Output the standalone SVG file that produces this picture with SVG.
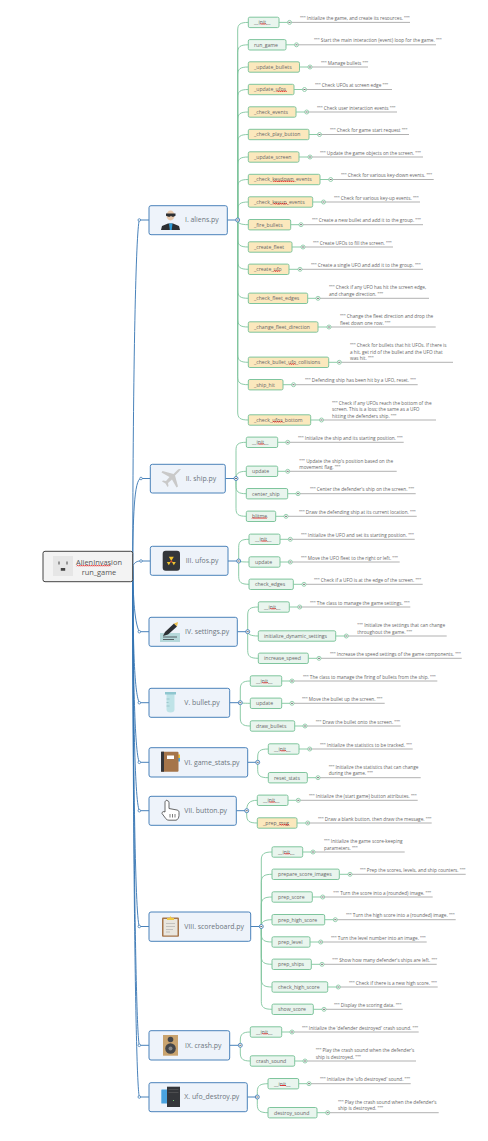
<svg xmlns="http://www.w3.org/2000/svg" width="488" height="1141" viewBox="0 0 488 1141">
<style>
text{font-family:"Open Sans","Liberation Sans",sans-serif;fill:#666}
.r{fill:#f3f3f3;stroke:#444;stroke-width:1}
.rt{font-size:7.4px;fill:#555;text-anchor:middle}
.p{fill:#eef3fa;stroke:#4a82ba;stroke-width:1}
.pt{font-size:6.9px;fill:#6c757e}
.c,.m{stroke:#7fc59d;stroke-width:1}
.c{fill:#e9f5ee}
.m{fill:#fbe8bd}
.l{font-size:5.15px}
.d{font-size:4.72px}
.tr,.br,.gr,.un{fill:none}
.tr,.br{stroke:#3474b2;stroke-width:.9}
.gr{stroke:#7fc59d;stroke-width:.9}
.un{stroke:#8f8f8f;stroke-width:.7}
.zz{fill:none;stroke:#e01010;stroke-width:.8}
</style>
<defs>
<g id="tg"><circle r="2" fill="#fff" stroke="#7fc59d" stroke-width=".8"/><path d="M-1 0H1" stroke="#333" stroke-width=".7"/></g>
<g id="tb"><circle r="2" fill="#fff" stroke="#3474b2" stroke-width=".8"/><path d="M-1 0H1" stroke="#333" stroke-width=".7"/></g>
<circle id="dot" r="1.3" fill="#fff" stroke="#3474b2" stroke-width=".7"/>
<path id="z7" class="zz" d="M0 1l1-1 1 1 1-1 1 1 1-1 1 1"/>
<path id="z10" class="zz" d="M0 1l1-1 1 1 1-1 1 1 1-1 1 1 1-1 1 1 1-1 1 1"/>
<path id="z14" class="zz" d="M0 1l1-1 1 1 1-1 1 1 1-1 1 1 1-1 1 1 1-1 1 1 1-1 1 1 1-1 1 1"/>
<path id="z21" class="zz" d="M0 1l1-1 1 1 1-1 1 1 1-1 1 1 1-1 1 1 1-1 1 1 1-1 1 1 1-1 1 1 1-1 1 1 1-1 1 1 1-1 1 1 1-1"/>
<path id="z15" class="zz" d="M0 1l1-1 1 1 1-1 1 1 1-1 1 1 1-1 1 1 1-1 1 1 1-1 1 1 1-1 1 1 1-1"/>
<path id="z44" class="zz" d="M0 1l1-1 1 1 1-1 1 1 1-1 1 1 1-1 1 1 1-1 1 1 1-1 1 1 1-1 1 1 1-1 1 1 1-1 1 1 1-1 1 1 1-1 1 1 1-1 1 1 1-1 1 1 1-1 1 1 1-1 1 1 1-1 1 1 1-1 1 1"/>
</defs>

<g id="connectors">
<g id="trunk">
<path class="tr" d="M132.700 566C133 360 136 232 139.300 220H149"/>
<path class="tr" d="M132.700 566C133 520 134 478.500 141 478.500H150.300"/>
<path class="tr" d="M132.700 566C135 562 137 561 141 561H150.300"/>
<path class="tr" d="M132.700 566C133 590 134 622 139.300 631.700H149"/>
<path class="tr" d="M132.700 566C133 640 134 692 139.300 702.700H149"/>
<path class="tr" d="M132.700 566C133 670 134.500 752 139.300 762.300H149"/>
<path class="tr" d="M132.700 566C133 700 134.500 800 139.300 810.700H149"/>
<path class="tr" d="M132.700 566C133 760 135 915 139.300 926.500H149"/>
<path class="tr" d="M132.700 566C133 800 135.500 1030 139.300 1045.300H149"/>
<path class="tr" d="M132.700 566C133 850 135.500 1080 139.300 1097H149"/>
<use href="#dot" x="139.300" y="220"/><use href="#dot" x="141" y="478.500"/><use href="#dot" x="141" y="561"/><use href="#dot" x="139.300" y="631.700"/><use href="#dot" x="139.300" y="702.700"/><use href="#dot" x="139.300" y="762.300"/><use href="#dot" x="139.300" y="810.700"/><use href="#dot" x="139.300" y="926.500"/><use href="#dot" x="139.300" y="1045.300"/><use href="#dot" x="139.300" y="1097"/>
</g>
<g id="branch-right">
<path class="br" d="M227.3 220H237.7M225.3 478.5H236M228 561H238.7M237.3 631.7H247.7M229.7 702.7H240.3M247.7 762.3H257.7M236.3 810.7H246.7M250.7 926.5H261.3M229.7 1045.3H240.3M247.3 1097H257.3"/>
</g>
<g id="green-links">
<path class="gr" d="M237.7 220V30C237.7 24.4 240 22.4 248.3 22.4M237.7 220V52.8C237.7 46.8 240 44.8 248.3 44.8M237.7 220V75C237.7 69 240 67 248.3 67M237.7 220V97.5C237.7 91.5 240 89.5 248.3 89.5M237.7 220V120C237.7 114 240 112 248.3 112M237.7 220V142.5C237.7 136.5 240 134.5 248.3 134.5M237.7 220V165C237.7 159 240 157 248.3 157M237.7 220V187.5C237.7 181.5 240 179.5 248.3 179.5M237.7 220V210C237.7 204 240 202 248.3 202M237.7 220C237.7 223 240 224.7 248.3 224.7M237.7 220V239C237.7 245 240 247 248.3 247M237.7 220V261.3C237.7 267.3 240 269.3 248.3 269.3M237.7 220V290.3C237.7 296.3 240 298.3 248.3 298.3M237.7 220V319C237.7 325 240 327 248.3 327M237.7 220V354.3C237.7 360.3 240 362.3 248.3 362.3M237.7 220V376.7C237.7 382.7 240 384.7 248.3 384.7M237.7 220V412C237.7 418 240 420 248.3 420"/>
<path class="gr" d="M236 478.5V450.3C236 444.3 238 442.3 246.3 442.3M236 478.5C236 474 238 471.3 246.3 471.3M236 478.5V485.7C236 491.7 238 493.7 246.3 493.7M236 478.5V508.3C236 514.3 238 516.3 246.3 516.3"/>
<path class="gr" d="M238.7 561V547.3C238.7 541.3 241 539.3 249 539.3M238.7 561C238.7 561.5 241 562 249 562M238.7 561V576.3C238.7 582.3 241 584.3 249 584.3"/>
<path class="gr" d="M247.7 631.7V615C247.7 609 250 607 258.3 607M247.7 631.7C247.7 634 250 636 258.3 636M247.7 631.7V650.3C247.7 656.3 250 658.3 258.3 658.3"/>
<path class="gr" d="M240.3 702.7V689C240.3 683 243 681 250.3 681M240.3 702.7C240.3 703 243 703.3 250.3 703.3M240.3 702.7V718C240.3 724 243 726 250.3 726"/>
<path class="gr" d="M257.7 762.3V757C257.7 751 260 749 268.3 749M257.7 762.3V769.7C257.7 775.7 260 777.7 268.3 777.7"/>
<path class="gr" d="M246.7 810.7C246.7 804 249 800.3 257.3 800.3M246.7 810.7V815C246.7 821 249 823 257.3 823"/>
<path class="gr" d="M261.3 926.5V860C261.3 854 264 852 272 852M261.3 926.5V882.3C261.3 876.3 264 874.3 272 874.3M261.3 926.5V905C261.3 899 264 897 272 897M261.3 926.5C261.3 922 264 919.7 272 919.7M261.3 926.5V934C261.3 940 264 942 272 942M261.3 926.5V956.3C261.3 962.3 264 964.3 272 964.3M261.3 926.5V979C261.3 985 264 987 272 987M261.3 926.5V1001.3C261.3 1007.3 264 1009.3 272 1009.3"/>
<path class="gr" d="M240.3 1045.3V1040C240.3 1034 243 1032 250.3 1032M240.3 1045.3V1053C240.3 1059 243 1061 250.3 1061"/>
<path class="gr" d="M257.3 1097V1091.7C257.3 1085.7 260 1083.7 268 1083.7M257.3 1097V1104.7C257.3 1110.7 260 1112.7 268 1112.7"/>
<path class="gr" d="M279 22.4H289.5M286 44.8H296.5M299.5 67H310M294 89.5H304.5M296 112H306.7M309 134.5H319.5M299 157H310M320 179.5H330.7M312.7 202H323.5M290.7 224.7H301M292 247H303M289 269.3H300M307.7 298.3H318M318 327H329M328.7 362.3H339.3M283 384.7H293.5M310.7 420H321.5M277.7 442.3H287.7M277.7 471.3H287.7M287.7 493.7H298M275.7 516.3H286M280 539.3H290.3M280 562H290.3M293.3 584.3H304M289.3 607H299.7M335.7 636H346.3M308.3 658.3H319M281.7 681H292M281.7 703.3H292M294.7 726H305M299 749H309.7M307.3 777.7H318M288 800.3H298.3M297 823H307.7M302.7 852H313M339.3 874.3H350M312.3 897H322.7M324.7 919.7H335.3M310 942H320.7M311.3 964.3H322M327.7 987H338.3M313.3 1009.3H324M281.7 1032H292M294.7 1061H305M298.7 1083.7H309M317 1112.7H327.7"/>
</g>
<g id="underlines">
<path class="un" d="M289.5 22.4H410M296.5 44.8H436M310 67H368M304.5 89.5H392M306.7 112H397M319.5 134.5H409M310 157H423M330.7 179.5H433.7M323.5 202H420M301 224.7H423M303 247H393M300 269.3H423M318 298.3H429M329 327H435.7M339.3 362.3H453M293.5 384.7H417.7M321.5 420H436M287.7 442.3H403.7M287.7 471.3H396.7M298 493.7H415.7M286 516.3H416.7M290.3 539.3H414.7M290.3 562H399.7M304 584.3H422.7M299.7 607H410.3M346.3 636H446.7M319 658.3H461.7M292 681H437.3M292 703.3H384.7M305 726H400.7M309.7 749H412.7M318 777.7H420.7M298.3 800.3H417.7M307.7 823H431.7M313 852H404.7M350 874.3H465.7M322.7 897H432.7M335.3 919.7H455.7M320.7 942H426.7M322 964.3H436.7M338.3 987H437.7M324 1009.3H402.7M292 1032H418.7M305 1061H416M309 1083.7H410.7M327.7 1112.7H438.7"/>
</g>
<g id="toggles">
<use href="#tb" x="237.7" y="220"/><use href="#tb" x="236" y="478.5"/><use href="#tb" x="238.7" y="561"/><use href="#tb" x="247.7" y="631.7"/><use href="#tb" x="240.3" y="702.7"/><use href="#tb" x="257.7" y="762.3"/><use href="#tb" x="246.7" y="810.7"/><use href="#tb" x="261.3" y="926.5"/><use href="#tb" x="240.3" y="1045.3"/><use href="#tb" x="257.3" y="1097"/>
<use href="#tg" x="289.5" y="22.4"/><use href="#tg" x="296.5" y="44.8"/><use href="#tg" x="310" y="67"/><use href="#tg" x="304.5" y="89.5"/><use href="#tg" x="306.7" y="112"/><use href="#tg" x="319.5" y="134.5"/><use href="#tg" x="310" y="157"/><use href="#tg" x="330.7" y="179.5"/><use href="#tg" x="323.5" y="202"/><use href="#tg" x="301" y="224.7"/><use href="#tg" x="303" y="247"/><use href="#tg" x="300" y="269.3"/><use href="#tg" x="318" y="298.3"/><use href="#tg" x="329" y="327"/><use href="#tg" x="339.3" y="362.3"/><use href="#tg" x="293.5" y="384.7"/><use href="#tg" x="321.5" y="420"/>
<use href="#tg" x="287.7" y="442.3"/><use href="#tg" x="287.7" y="471.3"/><use href="#tg" x="298" y="493.7"/><use href="#tg" x="286" y="516.3"/><use href="#tg" x="290.3" y="539.3"/><use href="#tg" x="290.3" y="562"/><use href="#tg" x="304" y="584.3"/><use href="#tg" x="299.7" y="607"/><use href="#tg" x="346.3" y="636"/><use href="#tg" x="319" y="658.3"/><use href="#tg" x="292" y="681"/><use href="#tg" x="292" y="703.3"/><use href="#tg" x="305" y="726"/><use href="#tg" x="309.7" y="749"/><use href="#tg" x="318" y="777.7"/><use href="#tg" x="298.3" y="800.3"/><use href="#tg" x="307.7" y="823"/><use href="#tg" x="313" y="852"/><use href="#tg" x="350" y="874.3"/><use href="#tg" x="322.7" y="897"/><use href="#tg" x="335.3" y="919.7"/><use href="#tg" x="320.7" y="942"/><use href="#tg" x="322" y="964.3"/><use href="#tg" x="338.3" y="987"/><use href="#tg" x="324" y="1009.3"/><use href="#tg" x="292" y="1032"/><use href="#tg" x="305" y="1061"/><use href="#tg" x="309" y="1083.7"/><use href="#tg" x="327.7" y="1112.7"/>
</g>
</g>

<g id="root">
<rect class="r" x="43" y="551.3" width="89.7" height="30.4" rx="2"/>
<rect x="53" y="556" width="20" height="20" fill="#e6e6e6"/>
<path d="M58.5 561.5h1v3h-1zM66.5 561.5h1v3h-1zM60.8 568h4.4v2.8h-4.4z" fill="#444"/>
<text class="rt" x="99" y="565">AlienInvasion</text>
<use href="#z44" x="76.7" y="565.2"/>
<text class="rt" x="99" y="574.5">run_game</text>
</g>

<g id="n1">
<rect class="p" x="149" y="205.7" width="78.3" height="29" rx="2"/>
<ellipse cx="170.5" cy="215.5" rx="4" ry="5" fill="#e9c9ac"/>
<path d="M166 213.5h9.5v2.3l-2 1h-1.5l-1-1-1 1h-1.5l-2.5-1zM161 230l1-4 6-2.5h5l6 2.5 1 4z" fill="#2c2f33"/>
<path d="M169 223.5h3.5l-.8 6.5h-1.9z" fill="#2e9ad6"/>
<text class="pt" x="185" y="222.3">I. aliens.py</text>
</g>
<g id="n2">
<rect class="p" x="150.3" y="464.3" width="75" height="28.7" rx="2"/>
<path d="M181 469.5c-1.5-1-3 0-4 1l-3.5 3.5-11-3-1 1.5 8 4.5-3.500 4-3-.5-1 1 3.500 2 2 3.500 1-1-.5-3 4-3.500 4.500 8 1.500-1-3-11 3.500-3.500c1-1 2-2.500 2-3z" fill="#c9c9c9"/>
<text class="pt" x="185.7" y="480.8">II. ship.py</text>
</g>
<g id="n3">
<rect class="p" x="150.3" y="546.3" width="77.7" height="29" rx="2"/>
<rect x="162.7" y="550.7" width="17.3" height="20" rx="3" fill="#33363a"/>
<path d="M171.3 561l-2.500-4.300h5zM171.3 561l2.500 4.300 2-3.300h-3zM171.3 561l-2.500 4.300-2-3.300h3z" fill="#f0c330"/>
<circle cx="171.3" cy="561.5" r="1" fill="#d8402c"/>
<text class="pt" x="185.7" y="563.3">III. ufos.py</text>
</g>
<g id="n4">
<rect class="p" x="149" y="617.3" width="88.3" height="29" rx="2"/>
<rect x="160" y="633" width="20" height="9" fill="#b5d8da"/>
<path d="M163 637h14M163 639.5h11" stroke="#2c2f33" stroke-width=".7"/>
<path d="M163 636l2-4 9-8.500 3 3-9 8z" fill="#2c2f33"/>
<path d="M174 623.5l4-1.500-1 4.500z" fill="#eec04a"/>
<text class="pt" x="185" y="634">IV. settings.py</text>
</g>
<g id="n5">
<rect class="p" x="149" y="688.3" width="80.7" height="29" rx="2"/>
<path d="M166.5 693.5h8v16a4 3 0 0 1-8 0z" fill="#bfe3e7"/>
<rect x="165" y="692" width="11" height="2.5" fill="#8fc6cf"/>
<path d="M166.5 699h3M166.5 702.5h2M166.5 706h3" stroke="#7fa9b3" stroke-width=".5"/>
<text class="pt" x="184.3" y="705">V. bullet.py</text>
</g>
<g id="n6">
<rect class="p" x="149" y="747.7" width="98.7" height="29.3" rx="2"/>
<rect x="177" y="754.5" width="3" height="3.5" fill="#f0c330"/>
<rect x="177" y="758" width="3" height="3.5" fill="#4aa3df"/>
<rect x="161" y="751.7" width="17.5" height="20" rx="1" fill="#a5754a"/>
<rect x="161" y="751.7" width="3" height="20" fill="#34363a"/>
<rect x="167" y="755.5" width="7" height="3.5" fill="#fff"/>
<text class="pt" x="184.3" y="764.7">VI. game_stats.py</text>
</g>
<g id="n7">
<rect class="p" x="149" y="796.3" width="87.3" height="29" rx="2"/>
<path d="M167 800.7c1.500 0 2 1 2 2v5.800l8 1.500c1.500.5 2 1 2 2.500v3c0 2-1.500 4.700-3 4.700h-7c-2 0-3-1.200-3.500-2l-3.500-4.700c0-2 1.500-2.300 3-1.500v-9.800c0-1 1-2 2-2z" fill="#fff" stroke="#444" stroke-width=".8"/>
<path d="M170 814v3.500M172.500 814v3.500M175 814v3.500" stroke="#444" stroke-width=".7"/>
<text class="pt" x="184.3" y="813">VII. button.py</text>
</g>
<g id="n8">
<rect class="p" x="149" y="912" width="101.7" height="29.3" rx="2"/>
<rect x="162" y="917.5" width="17" height="19.2" rx="1" fill="#a5754a"/>
<rect x="163.5" y="919" width="14" height="16.5" fill="#e9e6df"/>
<path d="M167 920v-2h2.500l1-2 1 2h2.500v2z" fill="#f0c944"/>
<path d="M166 923.5h9M166 926.5h9M166 929.5h7M166 932h4" stroke="#aaa" stroke-width=".6"/>
<text class="pt" x="184.3" y="928.8">VIII. scoreboard.py</text>
</g>
<g id="n9">
<rect class="p" x="149" y="1030.7" width="80.7" height="29.3" rx="2"/>
<rect x="163" y="1035" width="15" height="20.7" fill="#c9a36e"/>
<circle cx="170.5" cy="1039.5" r="2.8" fill="#44464a"/>
<circle cx="170.5" cy="1048.5" r="5.3" fill="#44464a"/>
<circle cx="170.5" cy="1048.5" r="2" fill="#888"/>
<text class="pt" x="185" y="1047.6">IX. crash.py</text>
</g>
<g id="n10">
<rect class="p" x="149" y="1082.7" width="98.3" height="29" rx="2"/>
<rect x="161.3" y="1089.5" width="9" height="14" rx=".5" fill="#4aa3df"/>
<rect x="167" y="1086.7" width="13" height="20.3" fill="#34363a"/>
<path d="M168.5 1089.5h10M168.5 1092.5h10" stroke="#666" stroke-width=".5"/>
<rect x="173" y="1100" width="1" height="1" fill="#6fce6f"/>
<text class="pt" x="184.3" y="1099.4">X. ufo_destroy.py</text>
</g>

<g id="n1-1"><rect class="c" x="248.3" y="17.2" width="30.7" height="10.4" rx="1.5"/><text class="l" x="254" y="24.2">__init__</text><use href="#z7" x="260" y="23.5"/></g>
<g id="n1-2"><rect class="c" x="248.3" y="39.6" width="37.7" height="10.4" rx="1.5"/><text class="l" x="254" y="46.6">run_game</text></g>
<g id="n1-3"><rect class="m" x="248.3" y="61.8" width="51.2" height="10.4" rx="1.5"/><text class="l" x="254" y="68.8">_update_bullets</text></g>
<g id="n1-4"><rect class="m" x="248.3" y="84.3" width="45.7" height="10.4" rx="1.5"/><text class="l" x="254" y="91.3">_update_ufos</text><use href="#z10" x="276.7" y="90.8"/></g>
<g id="n1-5"><rect class="m" x="248.3" y="106.8" width="47.7" height="10.4" rx="1.5"/><text class="l" x="254" y="113.8">_check_events</text></g>
<g id="n1-6"><rect class="m" x="248.3" y="129.3" width="60.7" height="10.4" rx="1.5"/><text class="l" x="254" y="136.3">_check_play_button</text></g>
<g id="n1-7"><rect class="m" x="248.3" y="151.8" width="50.7" height="10.4" rx="1.5"/><text class="l" x="254" y="158.8">_update_screen</text></g>
<g id="n1-8"><rect class="m" x="248.3" y="174.3" width="71.7" height="10.4" rx="1.5"/><text class="l" x="254" y="181.3">_check_keydown_events</text><use href="#z21" x="273.3" y="180.8"/></g>
<g id="n1-9"><rect class="m" x="248.3" y="196.8" width="64.4" height="10.4" rx="1.5"/><text class="l" x="254" y="203.8">_check_keyup_events</text><use href="#z14" x="273.3" y="203.3"/></g>
<g id="n1-10"><rect class="m" x="248.3" y="219.5" width="42.4" height="10.4" rx="1.5"/><text class="l" x="254" y="226.5">_fire_bullets</text></g>
<g id="n1-11"><rect class="m" x="248.3" y="241.8" width="43.7" height="10.4" rx="1.5"/><text class="l" x="254" y="248.8">_create_fleet</text></g>
<g id="n1-12"><rect class="m" x="248.3" y="264.1" width="40.7" height="10.4" rx="1.5"/><text class="l" x="254" y="271.1">_create_ufo</text><use href="#z7" x="273.7" y="270.6"/></g>
<g id="n1-13"><rect class="m" x="248.3" y="293.1" width="59.4" height="10.4" rx="1.5"/><text class="l" x="254" y="300.1">_check_fleet_edges</text></g>
<g id="n1-14"><rect class="m" x="248.3" y="321.8" width="69.7" height="10.4" rx="1.5"/><text class="l" x="254" y="328.8">_change_fleet_direction</text></g>
<g id="n1-15"><rect class="m" x="248.3" y="357.1" width="80.4" height="10.4" rx="1.5"/><text class="l" x="254" y="364.1">_check_bullet_ufo_collisions</text><use href="#z7" x="289.3" y="363.6"/></g>
<g id="n1-16"><rect class="m" x="248.3" y="379.5" width="34.7" height="10.4" rx="1.5"/><text class="l" x="254" y="386.5">_ship_hit</text></g>
<g id="n1-17"><rect class="m" x="248.3" y="414.8" width="62.4" height="10.4" rx="1.5"/><text class="l" x="254" y="421.8">_check_ufos_bottom</text><use href="#z10" x="272.7" y="421.3"/></g>

<g id="n2-1"><rect class="c" x="246.3" y="437.1" width="31.4" height="10.4" rx="1.5"/><text class="l" x="252" y="444.1">__init__</text><use href="#z7" x="258" y="443.6"/></g>
<g id="n2-2"><rect class="c" x="246.3" y="466.1" width="31.4" height="10.4" rx="1.5"/><text class="l" x="252" y="473.1">update</text></g>
<g id="n2-3"><rect class="c" x="246.3" y="488.5" width="41.4" height="10.4" rx="1.5"/><text class="l" x="252" y="495.5">center_ship</text></g>
<g id="n2-4"><rect class="c" x="246.3" y="511.1" width="29.4" height="10.4" rx="1.5"/><text class="l" x="252" y="518.1">blitme</text><use href="#z15" x="252" y="517.6"/></g>

<g id="n3-1"><rect class="c" x="249" y="534.1" width="31" height="10.4" rx="1.5"/><text class="l" x="255" y="541.1">__init__</text><use href="#z7" x="261" y="540.6"/></g>
<g id="n3-2"><rect class="c" x="249" y="556.8" width="31" height="10.4" rx="1.5"/><text class="l" x="255" y="563.8">update</text></g>
<g id="n3-3"><rect class="c" x="249" y="579.1" width="44.3" height="10.4" rx="1.5"/><text class="l" x="255" y="586.1">check_edges</text></g>

<g id="n4-1"><rect class="c" x="258.3" y="601.8" width="31" height="10.4" rx="1.5"/><text class="l" x="264" y="608.8">__init__</text><use href="#z7" x="270" y="608.3"/></g>
<g id="n4-2"><rect class="c" x="258.3" y="630.8" width="77.4" height="10.4" rx="1.5"/><text class="l" x="264" y="637.8">initialize_dynamic_settings</text></g>
<g id="n4-3"><rect class="c" x="258.3" y="653.1" width="50" height="10.4" rx="1.5"/><text class="l" x="264" y="660.1">increase_speed</text></g>

<g id="n5-1"><rect class="c" x="250.3" y="675.8" width="31.4" height="10.4" rx="1.5"/><text class="l" x="256" y="682.8">__init__</text><use href="#z7" x="262" y="682.3"/></g>
<g id="n5-2"><rect class="c" x="250.3" y="698.1" width="31.4" height="10.4" rx="1.5"/><text class="l" x="256" y="705.1">update</text></g>
<g id="n5-3"><rect class="c" x="250.3" y="720.8" width="44.4" height="10.4" rx="1.5"/><text class="l" x="256" y="727.8">draw_bullets</text></g>

<g id="n6-1"><rect class="c" x="268.3" y="743.8" width="30.7" height="10.4" rx="1.5"/><text class="l" x="274" y="750.8">__init__</text><use href="#z7" x="280" y="750.3"/></g>
<g id="n6-2"><rect class="c" x="268.3" y="772.5" width="39" height="10.4" rx="1.5"/><text class="l" x="274" y="779.5">reset_stats</text></g>

<g id="n7-1"><rect class="c" x="257.3" y="795.1" width="30.7" height="10.4" rx="1.5"/><text class="l" x="263" y="802.1">__init__</text><use href="#z7" x="269" y="801.6"/></g>
<g id="n7-2"><rect class="m" x="257.3" y="817.8" width="39.7" height="10.4" rx="1.5"/><text class="l" x="263" y="824.8">_prep_msg</text><use href="#z10" x="279.3" y="824.3"/></g>

<g id="n8-1"><rect class="c" x="272" y="846.8" width="30.7" height="10.4" rx="1.5"/><text class="l" x="278" y="853.8">__init__</text><use href="#z7" x="284" y="853.3"/></g>
<g id="n8-2"><rect class="c" x="272" y="869.1" width="67.3" height="10.4" rx="1.5"/><text class="l" x="278" y="876.1">prepare_score_images</text></g>
<g id="n8-3"><rect class="c" x="272" y="891.8" width="40.3" height="10.4" rx="1.5"/><text class="l" x="278" y="898.8">prep_score</text></g>
<g id="n8-4"><rect class="c" x="272" y="914.5" width="52.7" height="10.4" rx="1.5"/><text class="l" x="278" y="921.5">prep_high_score</text></g>
<g id="n8-5"><rect class="c" x="272" y="936.8" width="38" height="10.4" rx="1.5"/><text class="l" x="278" y="943.8">prep_level</text></g>
<g id="n8-6"><rect class="c" x="272" y="959.1" width="39.3" height="10.4" rx="1.5"/><text class="l" x="278" y="966.1">prep_ships</text></g>
<g id="n8-7"><rect class="c" x="272" y="981.8" width="55.7" height="10.4" rx="1.5"/><text class="l" x="278" y="988.8">check_high_score</text></g>
<g id="n8-8"><rect class="c" x="272" y="1004.1" width="41.3" height="10.4" rx="1.5"/><text class="l" x="278" y="1011.1">show_score</text></g>

<g id="n9-1"><rect class="c" x="250.3" y="1026.8" width="31.4" height="10.4" rx="1.5"/><text class="l" x="256" y="1033.8">__init__</text><use href="#z7" x="262" y="1033.3"/></g>
<g id="n9-2"><rect class="c" x="250.3" y="1055.8" width="44.4" height="10.4" rx="1.5"/><text class="l" x="256" y="1062.8">crash_sound</text></g>

<g id="n10-1"><rect class="c" x="268" y="1078.5" width="30.7" height="10.4" rx="1.5"/><text class="l" x="274" y="1085.5">__init__</text><use href="#z7" x="280" y="1085"/></g>
<g id="n10-2"><rect class="c" x="268" y="1107.5" width="49" height="10.4" rx="1.5"/><text class="l" x="274" y="1114.5">destroy_sound</text></g>

<g id="descriptions">
<text class="d" x="300" y="19.9">""" Initialize the game, and create its resources. """</text>
<text class="d" x="314" y="42.3">""" Start the main interaction (event) loop for the game. """</text>
<text class="d" x="321" y="64.5">""" Manage bullets """</text>
<text class="d" x="315" y="87">""" Check UFOs at screen edge """</text>
<text class="d" x="317" y="109.5">""" Check user interaction events """</text>
<text class="d" x="330" y="132">""" Check for game start request """</text>
<text class="d" x="320" y="154.5">""" Update the game objects on the screen. """</text>
<text class="d" x="341" y="177">""" Check for various key-down events. """</text>
<text class="d" x="334" y="199.5">""" Check for various key-up events. """</text>
<text class="d" x="312" y="222.2">""" Create a new bullet and add it to the group. """</text>
<text class="d" x="313" y="244.5">""" Create UFOs to fill the screen. """</text>
<text class="d" x="311" y="266.8">""" Create a single UFO and add it to the group. """</text>
<text class="d" x="329" y="289.3">""" Check if any UFO has hit the screen edge,</text>
<text class="d" x="329" y="295.8">and change direction. """</text>
<text class="d" x="340" y="318">""" Change the fleet direction and drop the</text>
<text class="d" x="340" y="324.5">fleet down one row. """</text>
<text class="d" x="350" y="347">""" Check for bullets that hit UFOs.  If there is</text>
<text class="d" x="350" y="353.5">a hit, get rid of the bullet and the UFO that</text>
<text class="d" x="350" y="359.8">was hit. """</text>
<text class="d" x="305" y="382.2">""" Defending ship has been hit by a UFO, reset. """</text>
<text class="d" x="332" y="404.5">""" Check if any UFOs reach the bottom of the</text>
<text class="d" x="332" y="411">screen.  This is a loss; the same as a UFO</text>
<text class="d" x="332" y="417.5">hitting the defenders ship. """</text>
<text class="d" x="298" y="439.8">""" Initialize the ship and its starting position. """</text>
<text class="d" x="299.3" y="462.5">""" Update the ship's position based on the</text>
<text class="d" x="299.3" y="469">movement flag. """</text>
<text class="d" x="310" y="491.2">""" Center the defender's ship on the screen. """</text>
<text class="d" x="299" y="513.8">""" Draw the defending ship at its current location. """</text>
<text class="d" x="301" y="536.8">""" Initialize the UFO and set its starting position. """</text>
<text class="d" x="301" y="559.5">""" Move the UFO fleet to the right or left. """</text>
<text class="d" x="314" y="581.8">""" Check if a UFO is at the edge of the screen. """</text>
<text class="d" x="310" y="604.5">""" The class to manage the game settings. """</text>
<text class="d" x="357.3" y="627">""" Initialize the settings that can change</text>
<text class="d" x="357.3" y="633.5">throughout the game. """</text>
<text class="d" x="330" y="655.8">""" Increase the speed settings of the game components. """</text>
<text class="d" x="303" y="678.5">""" The class to manage the firing of bullets from the ship. """</text>
<text class="d" x="302" y="700.8">""" Move the bullet up the screen. """</text>
<text class="d" x="315.7" y="723.5">""" Draw the bullet onto the screen. """</text>
<text class="d" x="320" y="746.5">""" Initialize the statistics to be tracked. """</text>
<text class="d" x="328.7" y="768.7">""" Initialize the statistics that can change</text>
<text class="d" x="328.7" y="775.2">during the game. """</text>
<text class="d" x="309" y="797.8">""" Initialize the (start game) button attributes. """</text>
<text class="d" x="318" y="820.5">""" Draw a blank button, then draw the message. """</text>
<text class="d" x="324" y="843.3">""" Initialize the game score-keeping</text>
<text class="d" x="324" y="849.8">parameters. """</text>
<text class="d" x="360" y="871.8">""" Prep the scores, levels, and ship counters. """</text>
<text class="d" x="333.3" y="894.5">""" Turn the score into a (rounded) image. """</text>
<text class="d" x="346" y="917.2">""" Turn the high score into a (rounded) image. """</text>
<text class="d" x="331" y="939.5">""" Turn the level number into an image. """</text>
<text class="d" x="332.3" y="961.8">""" Show how many defender's ships are left. """</text>
<text class="d" x="349" y="984.5">""" Check if there is a new high score. """</text>
<text class="d" x="334" y="1006.8">""" Display the scoring data. """</text>
<text class="d" x="302" y="1029.5">""" Initialize the 'defender destroyed' crash sound. """</text>
<text class="d" x="315.7" y="1052">""" Play the crash sound when the defender's</text>
<text class="d" x="315.7" y="1058.5">ship is destroyed. """</text>
<text class="d" x="320" y="1081.2">""" Initialize the 'ufo destroyed' sound. """</text>
<text class="d" x="338" y="1103.7">""" Play the crash sound when the defender's</text>
<text class="d" x="338" y="1110.2">ship is destroyed. """</text>
</g>
</svg>
